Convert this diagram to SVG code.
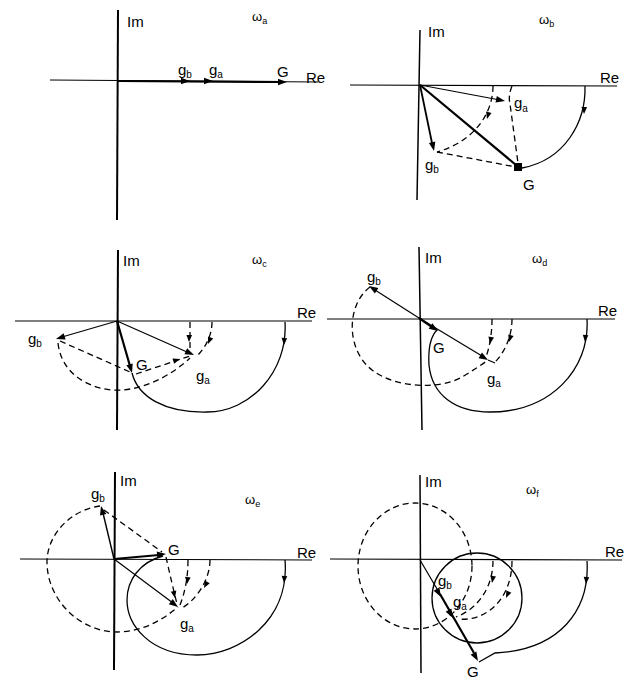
<svg xmlns="http://www.w3.org/2000/svg" xmlns:xlink="http://www.w3.org/1999/xlink" width="634" height="682" viewBox="0 0 634 682">
<style>
.ax{stroke:#000;stroke-width:1.1;fill:none}
.im{stroke:#000;stroke-width:2;fill:none}
.imt{stroke:#000;stroke-width:1.5;fill:none}
.v{stroke:#000;stroke-width:1.2;fill:none}
.vt{stroke:#000;stroke-width:2.2;fill:none}
.c{stroke:#000;stroke-width:1.3;fill:none}
.d{stroke:#000;stroke-width:1.3;fill:none;stroke-dasharray:6 4}
text{font-family:"Liberation Sans",Arial,sans-serif;font-size:15px;fill:#000}
.w{font-size:13px}
.s{font-size:10px}
.ws{font-size:9px}
</style>
<defs>
<path id="ah" d="M0,0 L-9,-3.3 L-9,3.3 z" fill="#000"/>
<path id="as" d="M0,0 L-7,-2.8 L-7,2.8 z" fill="#000"/>
</defs>
<rect width="634" height="682" fill="#fff"/>

<g id="panel-a">
<line class="im" x1="118" y1="10" x2="117" y2="220"/>
<line class="ax" x1="50" y1="80" x2="318" y2="82"/>
<line class="vt" x1="118" y1="81" x2="284" y2="82"/>
<use xlink:href="#ah" transform="translate(190,81)"/>
<use xlink:href="#ah" transform="translate(213,81)"/>
<use xlink:href="#ah" transform="translate(287,82)"/>
<text x="127" y="27">Im</text>
<text class="w" x="252" y="21">ω<tspan class="ws" dy="3">a</tspan></text>
<text x="178" y="75">g<tspan class="s" dy="3">b</tspan></text>
<text x="209" y="75">g<tspan class="s" dy="3">a</tspan></text>
<text x="277" y="77">G</text>
<text x="306" y="83">Re</text>
</g>

<g id="panel-b">
<line class="imt" x1="420" y1="30" x2="417" y2="200"/>
<line class="ax" x1="350" y1="85" x2="617" y2="86"/>
<line class="vt" x1="420" y1="85" x2="516" y2="165"/>
<rect x="514" y="163" width="8" height="8" fill="#000"/>
<line class="v" x1="420" y1="85" x2="500" y2="100"/>
<use xlink:href="#ah" transform="translate(505,101) rotate(11)"/>
<line class="v" x1="420" y1="85" x2="432" y2="143" style="stroke-width:1.8"/>
<use xlink:href="#ah" transform="translate(434,151) rotate(78)"/>
<path class="d" d="M437,152 L516,167"/>
<path class="d" d="M512,86 Q508,96 510,104 L518,163"/>
<path class="d" d="M493,86 C493,110 478,140 437,152"/>
<use xlink:href="#as" transform="translate(487,119) rotate(105)"/>
<path class="c" d="M585,86 C586,122 565,160 522,168"/>
<use xlink:href="#as" transform="translate(584,114) rotate(92)"/>
<text x="428" y="37">Im</text>
<text class="w" x="539" y="24">ω<tspan class="ws" dy="3">b</tspan></text>
<text x="600" y="83">Re</text>
<text x="514" y="108">g<tspan class="s" dy="4">a</tspan></text>
<text x="425" y="170">g<tspan class="s" dy="3">b</tspan></text>
<text x="523" y="190">G</text>
</g>

<g id="panel-c">
<line class="im" x1="118" y1="250" x2="117" y2="430"/>
<line class="ax" x1="15" y1="321" x2="312" y2="321"/>
<line class="v" x1="117" y1="321" x2="62" y2="337"/>
<use xlink:href="#ah" transform="translate(56,339) rotate(163)"/>
<line class="vt" x1="117" y1="321" x2="130" y2="366"/>
<use xlink:href="#ah" transform="translate(132,373) rotate(74)"/>
<line class="v" x1="117" y1="321" x2="187" y2="352"/>
<use xlink:href="#ah" transform="translate(194,355) rotate(24)"/>
<path class="d" d="M60,341 L130,372"/>
<path class="d" d="M136,374 L190,356"/>
<use xlink:href="#as" transform="translate(180,359) rotate(-18)"/>
<path class="d" d="M58,343 C62,380 100,392 122,390 C150,388 175,372 190,358"/>
<path class="d" d="M190,322 L190,352"/>
<use xlink:href="#as" transform="translate(189,342) rotate(92)"/>
<path class="d" d="M212,322 C212,335 206,347 197,356"/>
<use xlink:href="#as" transform="translate(208,344) rotate(112)"/>
<path class="c" d="M285,322 C288,372 250,412 207,412 C165,413 138,397 132,373"/>
<use xlink:href="#as" transform="translate(284,345) rotate(93)"/>
<text x="123" y="266">Im</text>
<text class="w" x="252" y="264">ω<tspan class="ws" dy="3">c</tspan></text>
<text x="297" y="318">Re</text>
<text x="28" y="344">g<tspan class="s" dy="3">b</tspan></text>
<text x="136" y="370">G</text>
<text x="196" y="381">g<tspan class="s" dy="3">a</tspan></text>
</g>

<g id="panel-d">
<line class="imt" x1="419" y1="247" x2="422" y2="430"/>
<line class="ax" x1="327" y1="319" x2="615" y2="319"/>
<line class="v" x1="419" y1="318" x2="375" y2="290"/>
<use xlink:href="#ah" transform="translate(369,286) rotate(212)"/>
<line class="vt" x1="419" y1="318" x2="432" y2="327"/>
<use xlink:href="#ah" transform="translate(438,331) rotate(34)"/>
<line class="v" x1="419" y1="318" x2="482" y2="356"/>
<use xlink:href="#ah" transform="translate(488,360) rotate(31)"/>
<path class="d" d="M370,287 C346,305 346,350 372,370 C395,388 440,390 462,377 C472,371 480,366 488,360"/>
<path class="d" d="M492,319 C492,332 490,346 486,357"/>
<use xlink:href="#as" transform="translate(490,344) rotate(100)"/>
<path class="d" d="M512,319 C512,336 505,352 495,362"/>
<use xlink:href="#as" transform="translate(509,342) rotate(106)"/>
<path class="v" d="M488,360 L495,363"/>
<path class="c" d="M587,319 C590,370 550,412 490,412 C455,412 432,395 429,365 C428,348 431,336 437,330"/>
<use xlink:href="#as" transform="translate(585,342) rotate(95)"/>
<text x="425" y="263">Im</text>
<text class="w" x="532" y="263">ω<tspan class="ws" dy="3">d</tspan></text>
<text x="598" y="316">Re</text>
<text x="367" y="282">g<tspan class="s" dy="3">b</tspan></text>
<text x="433" y="353">G</text>
<text x="487" y="384">g<tspan class="s" dy="3">a</tspan></text>
</g>

<g id="panel-e">
<line class="im" x1="115" y1="472" x2="114" y2="670"/>
<line class="ax" x1="20" y1="559" x2="312" y2="560"/>
<line class="v" x1="114" y1="559" x2="103" y2="513" style="stroke-width:1.4"/>
<use xlink:href="#ah" transform="translate(101,506) rotate(256)"/>
<line class="v" x1="114" y1="559" x2="159" y2="555" style="stroke-width:1.8"/>
<use xlink:href="#ah" transform="translate(166,554) rotate(-5)"/>
<line class="v" x1="114" y1="559" x2="173" y2="603"/>
<use xlink:href="#ah" transform="translate(178,607) rotate(37)"/>
<path class="d" d="M104,510 L162,552"/>
<path class="d" d="M166,557 C170,575 174,592 177,604"/>
<use xlink:href="#as" transform="translate(175,598) rotate(78)"/>
<path class="d" d="M100,506 C70,510 47,535 47,562 C47,600 80,632 117,632 C140,632 160,622 178,607"/>
<path class="d" d="M188,560 C188,580 184,595 180,605"/>
<use xlink:href="#as" transform="translate(187,584) rotate(97)"/>
<path class="d" d="M210,560 C210,580 196,600 182,608"/>
<use xlink:href="#as" transform="translate(204,588) rotate(118)"/>
<path class="c" d="M285,560 C290,620 240,655 197,655 C150,655 127,625 127,600 C127,580 140,562 163,556"/>
<use xlink:href="#as" transform="translate(284,583) rotate(94)"/>
<text x="120" y="486">Im</text>
<text class="w" x="245" y="504">ω<tspan class="ws" dy="3">e</tspan></text>
<text x="297" y="558">Re</text>
<text x="91" y="499">g<tspan class="s" dy="3">b</tspan></text>
<text x="168" y="555">G</text>
<text x="180" y="629">g<tspan class="s" dy="3">a</tspan></text>
</g>

<g id="panel-f">
<line class="imt" x1="420" y1="475" x2="421" y2="673"/>
<line class="ax" x1="330" y1="559" x2="622" y2="560"/>
<ellipse class="d" cx="415" cy="566" rx="57" ry="63"/>
<circle class="c" cx="477" cy="598" r="45"/>
<line class="v" x1="420" y1="560" x2="440" y2="594"/>
<line class="vt" x1="440" y1="594" x2="474" y2="653"/>
<use xlink:href="#ah" transform="translate(441,597) rotate(60)"/>
<use xlink:href="#ah" transform="translate(453,618) rotate(60)"/>
<use xlink:href="#ah" transform="translate(478,661) rotate(60)"/>
<path class="d" d="M493,561 C493,585 480,608 456,617"/>
<use xlink:href="#as" transform="translate(492,583) rotate(100)"/>
<path class="d" d="M512,561 C512,600 485,622 458,619"/>
<use xlink:href="#as" transform="translate(506,598) rotate(114)"/>
<path class="c" d="M587,561 C590,610 560,650 495,653 L479,662"/>
<use xlink:href="#as" transform="translate(586,584) rotate(94)"/>
<text x="425" y="487">Im</text>
<text class="w" x="526" y="494">ω<tspan class="ws" dy="3">f</tspan></text>
<text x="605" y="557">Re</text>
<text x="438" y="586">g<tspan class="s" dy="3">b</tspan></text>
<text x="453" y="607">g<tspan class="s" dy="3">a</tspan></text>
<text x="467" y="677">G</text>
</g>
</svg>
